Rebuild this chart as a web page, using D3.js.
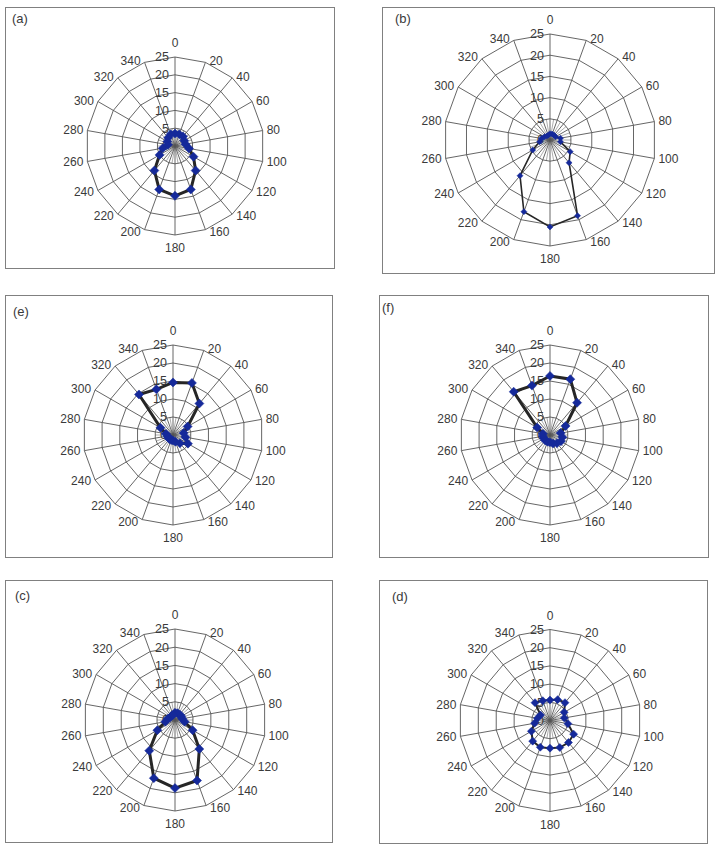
<!DOCTYPE html>
<html><head><meta charset="utf-8">
<script src="https://cdn.jsdelivr.net/npm/d3@7/dist/d3.min.js"></script>
<style>body{margin:0;background:#fff} svg{display:block}</style>
</head><body>
<script>
// ---- data ----
const categories = [0,20,40,60,80,100,120,140,160,180,200,220,240,260,280,300,320,340];
const ringTicks = [0,5,10,15,20,25];
const panelNames = ["(a)","(b)","(e)","(f)","(c)","(d)"];
const valuesA = [3.5,3.5,3.5,3,3,4,6,9,13,14,13,9,5,3.5,2,2.5,3,3.5];
const valuesB = [1.5,1.5,1.5,1.5,2.5,2.5,5.5,7,19,20.5,18,11,4.7,2.5,2,1.5,1.2,1.2];
const valuesE = [14.6,15.4,11.4,4.7,3,3.5,4.8,3,2,1.5,1.5,1.5,1.5,1.5,2,4,14.7,13.5];
const valuesF = [16.4,16.5,11.7,5,3,3.5,3.5,3,2.5,2,2,2,2,2,2,4.1,15.7,14.6];
const valuesC = [2,2,2,2,2,2.7,5.6,10.4,17.7,18.7,17,11,5.6,2.7,2,1.5,1.5,1.5];
const valuesD = [5.6,6.1,6.4,4.5,4,5,7.5,7.9,7.9,7.6,7.8,7.4,5.9,4.3,3.5,3,6.4,5.8];
const seriesList = [valuesA, valuesB, valuesE, valuesF, valuesC, valuesD];

// ---- layout (positions / styles only) ----
const layout = [
  {box:[5,7,329,261],   cx:175, cy:146,   r:89,  tx:12,  ty:23,  lw:3,   ms:9},
  {box:[382,7,332,266], cx:550, cy:140,   r:106, tx:395, ty:23,  lw:1.6, ms:6},
  {box:[5,295,327,262], cx:173, cy:435,   r:90,  tx:13,  ty:316, lw:3,   ms:9},
  {box:[379,295,329,262],cx:550, cy:435,  r:90,  tx:382, ty:312, lw:3,   ms:9},
  {box:[5,580,327,262], cx:175, cy:720,   r:91,  tx:15,  ty:600, lw:3,   ms:9},
  {box:[379,580,328,263],cx:550, cy:720.5,r:91,  tx:392, ty:601, lw:2,   ms:8}
];

const W = 716, H = 853;
const svg = d3.select("body").append("svg").attr("width", W).attr("height", H)
  .style("font-family", "'Liberation Sans', Arial, sans-serif");

const angle = d3.scaleLinear().domain([0,360]).range([0, 2*Math.PI]);
const gridColor = "#555";
const textColor = "#3a3a3a";
const markerColor = "#15299a";

layout.forEach((p, i) => {
  const vals = seriesList[i];
  const [bx, by, bw, bh] = p.box;
  svg.append("rect").attr("x", bx+0.5).attr("y", by+0.5).attr("width", bw).attr("height", bh)
    .attr("fill", "#fff").attr("stroke", "#808080").attr("stroke-width", 1);
  svg.append("text").attr("x", p.tx).attr("y", p.ty).attr("font-size", 13)
    .attr("fill", textColor).text(panelNames[i]);

  const rs = d3.scaleLinear().domain([0, 25]).range([0, p.r]);
  const g = svg.append("g").attr("transform", `translate(${p.cx},${p.cy})`);

  // inner fine spokes
  const half = d3.range(10, 360, 20);
  g.selectAll("line.fine").data(half).join("line")
    .attr("x1", 0).attr("y1", 0)
    .attr("x2", d => rs(5) * Math.sin(angle(d)))
    .attr("y2", d => -rs(5) * Math.cos(angle(d)))
    .attr("stroke", "#777").attr("stroke-width", 0.6);

  // rings
  const ringLine = d3.lineRadial().angle(d => angle(d)).curve(d3.curveLinearClosed);
  ringTicks.slice(1).forEach(t => {
    g.append("path").attr("d", ringLine.radius(rs(t))(categories))
      .attr("fill", "none").attr("stroke", gridColor).attr("stroke-width", 0.9);
  });
  // spokes
  g.selectAll("line.spoke").data(categories).join("line")
    .attr("x1", 0).attr("y1", 0)
    .attr("x2", d => rs(25) * Math.sin(angle(d)))
    .attr("y2", d => -rs(25) * Math.cos(angle(d)))
    .attr("stroke", gridColor).attr("stroke-width", 0.9);

  // ring tick labels
  g.selectAll("text.tick").data(ringTicks).join("text")
    .attr("x", -6).attr("y", d => -rs(d)).attr("dy", "0.35em")
    .attr("text-anchor", "end").attr("font-size", 12.5).attr("fill", textColor)
    .text(d => d);

  // category labels
  g.selectAll("text.cat").data(categories).join("text")
    .each(function(d) {
      const a = angle(d), s = Math.sin(a), c = Math.cos(a);
      const vx = rs(25) * s, vy = -rs(25) * c;
      const t = d3.select(this);
      if (d === 0 || d === 180) {
        t.attr("x", vx).attr("y", vy + (d === 0 ? -14 : 13)).attr("text-anchor", "middle");
      } else {
        t.attr("x", vx + (s > 0 ? 4 : -4)).attr("y", vy - 2 * c)
         .attr("text-anchor", s > 0 ? "start" : "end");
      }
    })
    .attr("dy", "0.35em").attr("font-size", 12).attr("fill", textColor)
    .text(d => d);

  // data line
  const dataLine = d3.lineRadial()
    .angle((d, j) => angle(categories[j]))
    .radius(d => rs(d))
    .curve(d3.curveLinearClosed);
  g.append("path").attr("d", dataLine(vals))
    .attr("fill", "none").attr("stroke", "#262626").attr("stroke-width", p.lw)
    .attr("stroke-linejoin", "miter");

  // markers (diamonds)
  const side = p.ms / Math.SQRT2;
  const sym = d3.symbol().type(d3.symbolSquare).size(side * side);
  g.selectAll("path.mk").data(vals).join("path")
    .attr("d", sym)
    .attr("transform", (d, j) => {
      const a = angle(categories[j]);
      return `translate(${rs(d) * Math.sin(a)},${-rs(d) * Math.cos(a)}) rotate(45)`;
    })
    .attr("fill", markerColor).attr("stroke", markerColor).attr("stroke-width", 0.5);
});
</script>
</body></html>
